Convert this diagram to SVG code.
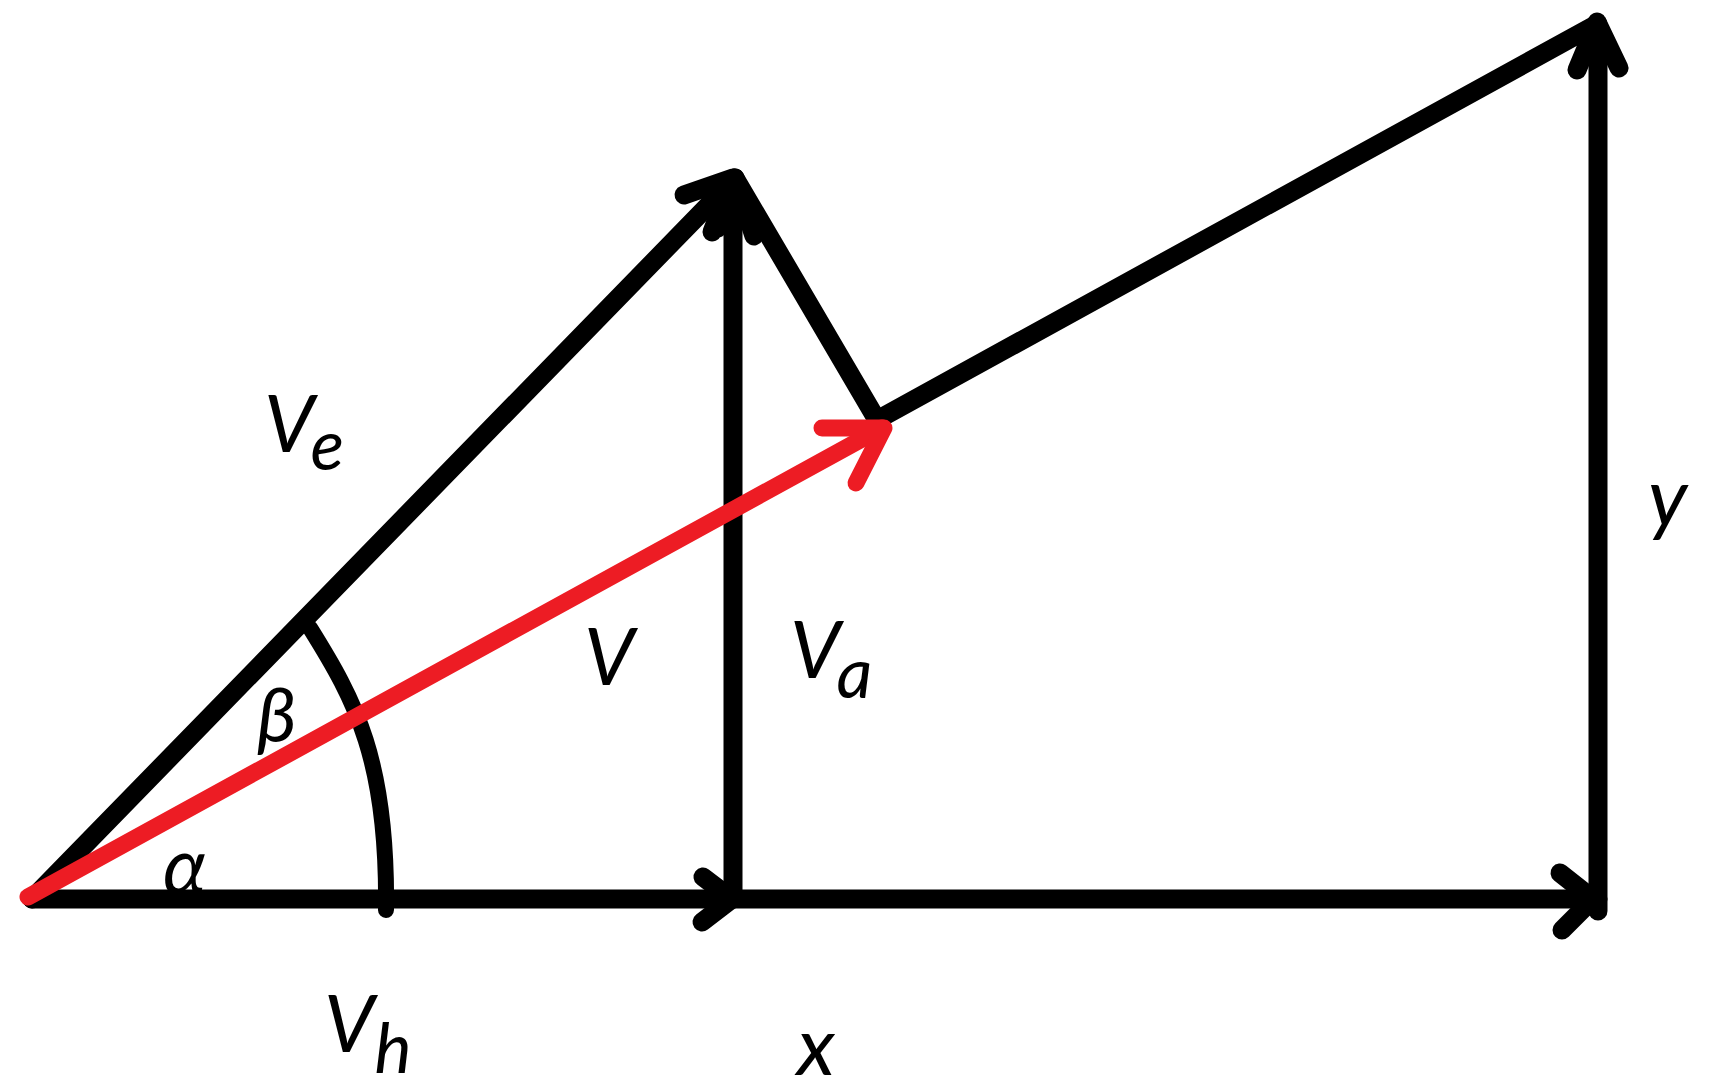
<svg xmlns="http://www.w3.org/2000/svg" width="1714" height="1092" viewBox="0 0 1714 1092">
<style>
text{font-family:Lato,"Open Sans","Liberation Sans",sans-serif;font-style:italic;fill:#000;font-size:80px}
.s{font-size:70px}
.k{fill:none;stroke:#000;stroke-width:19;stroke-linecap:round;stroke-linejoin:round}
.r{fill:none;stroke:#ED1C24;stroke-width:17;stroke-linecap:round;stroke-linejoin:round}
</style>
<rect width="1714" height="1092" fill="#fff"/>
<g id="labels">
<g id="label-Ve"><text x="264" y="452">V<tspan class="s" dx="-4" dy="18">e</tspan></text></g>
<g id="label-V"><text x="584" y="685">V</text></g>
<g id="label-Va"><text x="790" y="678">V<tspan class="s" dx="-4" dy="20">a</tspan></text></g>
<g id="label-Vh"><text x="324" y="1052">V<tspan class="s" dx="0" dy="21">h</tspan></text></g>
<g id="label-x"><text x="797" y="1075" style="font-size:82px">x</text></g>
<g id="label-y"><text x="1648" y="526" style="font-size:82px">y</text></g>
<g id="label-alpha"><text x="163" y="894" style="font-size:78px">α</text></g>
<g id="label-beta"><text x="257" y="742" style="font-size:76px">β</text></g>
</g>
<g id="connectors">
<path id="arc" class="k" style="stroke-width:16" d="M310,628 C355,700 388,760 386,910"/>
<path id="x-axis" class="k" d="M32,899 L1598,899"/>
<path id="x-head-mid" class="k" d="M703,877 L732,899 L702,922"/>
<path id="x-head-end" class="k" d="M1560,873 L1593,899 L1562,930"/>
<path id="y-axis" class="k" d="M1598,911 L1598,24"/>
<path id="y-head" class="k" d="M1577,70 L1597,22 L1619,68"/>
<path id="Ve" class="k" d="M32,899 L733,180"/>
<path id="Ve-head" class="k" d="M684,195 L733,178 L712,232"/>
<path id="Va" class="k" d="M733,899 L733,180"/>
<path id="Va-head" class="k" d="M718,228 L735,178 L754,236"/>
<path id="Va-shift" class="k" d="M735,178 L877,420"/>
<path id="resultant" class="k" d="M877,420 L1597,24"/>
<path id="V" class="r" d="M28,897 L882,428"/>
<path id="V-head" class="r" d="M822,428 L884,428 L856,483"/>
</g>
</svg>
